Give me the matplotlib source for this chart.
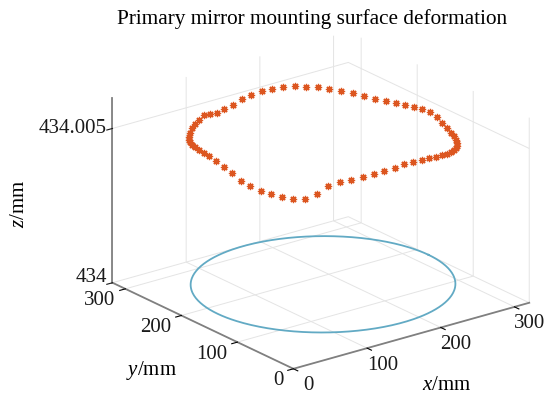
import numpy as np
import matplotlib
matplotlib.use("Agg")
import matplotlib.pyplot as plt

# nominal mounting circle (mm)
circle_cx, circle_cy = 177.0, 180.0
circle_r = 143.0
z_base = 434.0

# measured ring: angle around the mount (deg) and height above z_base (um)
ring_r = 145.0
ring_theta_deg = np.arange(0, 360, 5)
ring_dz_um = [
    4.63, 4.60, 4.57, 4.55, 4.53, 4.53, 4.55, 4.58, 4.64, 4.70,
    4.75, 4.81, 4.84, 4.87, 4.88, 4.87, 4.85, 4.80, 4.74, 4.66,
    4.61, 4.58, 4.68, 4.77, 4.73, 4.71, 4.72, 4.72, 4.72, 4.75,
    4.81, 4.87, 4.93, 4.97, 4.98, 5.00, 4.95, 4.88, 4.77, 4.61,
    4.51, 4.43, 4.38, 4.33, 4.31, 4.34, 4.52, 4.78, 4.87, 4.94,
    4.98, 5.02, 5.06, 5.11, 5.16, 5.12, 5.08, 5.04, 4.97, 4.90,
    4.83, 4.76, 4.69, 4.62, 4.56, 4.50, 4.47, 4.45, 4.43, 4.44,
    4.49, 4.57,
]

x_ticks = [0, 100, 200, 300]
y_ticks = [0, 100, 200, 300]
z_ticks = [434.0, 434.005]
z_ticklabels = ["434", "434.005"]

plt.rcParams["font.family"] = ["Liberation Serif", "DejaVu Serif"]
plt.rcParams["mathtext.fontset"] = "custom"
plt.rcParams["mathtext.rm"] = "Liberation Serif"
plt.rcParams["mathtext.it"] = "Liberation Serif:italic"

fig = plt.figure(figsize=(5.46, 3.96), dpi=100)
ax = fig.add_axes([0.2152, -0.019, 0.7253, 1.0], projection="3d", proj_type="ortho")
ax.view_init(elev=21.4, azim=-127.5)
ax.set_box_aspect((1.48, 1.48, 0.99), zoom=1.14)

# nominal circle
t = np.linspace(0, 2 * np.pi, 361)
ax.plot(circle_cx + circle_r * np.cos(t), circle_cy + circle_r * np.sin(t),
        np.full_like(t, z_base), color="#62aac4", lw=1.3)

# deformed ring
th = np.deg2rad(ring_theta_deg)
rz = z_base + np.array(ring_dz_um) / 1000.0
ax.plot(circle_cx + ring_r * np.cos(th), circle_cy + ring_r * np.sin(th), rz,
        ls="none", marker=(8, 2, 0), ms=5.2, mew=0.9, color="#dc5620")

ax.set_xlim(0, 320)
ax.set_ylim(0, 323)
ax.set_zlim(434.0, 434.006)
ax.set_xticks(x_ticks)
ax.set_yticks(y_ticks)
ax.set_zticks(z_ticks)
ax.set_zticklabels(z_ticklabels, ha="right", va="center")
# built-in x/y labels are replaced by ax.text below; park them on the axis
ax.tick_params(axis="x", labelbottom=False, pad=-8)
ax.tick_params(axis="y", labelleft=False, labelbottom=False, pad=-8)

for axis in (ax.xaxis, ax.yaxis, ax.zaxis):
    axis.set_pane_color((1, 1, 1, 0))
    axis.pane.set_edgecolor((1, 1, 1, 0))
    axis.line.set_color("#808080")
    axis.line.set_linewidth(1.3)
    axis._axinfo["grid"].update(color="#e4e4e4", linewidth=0.7)
    axis._axinfo["tick"].update(inward_factor=0.3, outward_factor=0.0)
ax.tick_params(axis="z", labelsize=15, colors="#1a1a1a", pad=-6)
# bottom z label sits on its tick so it clears the y labels
ax.zaxis.get_major_ticks()[0].label1.set_va("baseline")

# x / y tick labels placed just outside the floor edges
for v in x_ticks:
    ax.text(v, -27, z_base - 0.00032, str(v), ha="center", va="center",
            fontsize=15, color="#1a1a1a")
for v in y_ticks:
    ax.text(-13.6, v, z_base - 0.0003, str(v), ha="right", va="center",
            fontsize=15, color="#1a1a1a")

# axis titles
fig.text(447 / 546, 1 - 385 / 396, r"$x$/mm", ha="center", va="center", fontsize=15)
fig.text(151 / 546, 1 - 371 / 396, r"$y$/mm", ha="center", va="center", fontsize=15)
fig.text(20 / 546, 1 - 204 / 396, r"$z$/mm", rotation=90,
         ha="center", va="center", fontsize=15)

fig.text(0.572, 0.951, "Primary mirror mounting surface deformation",
         ha="center", va="center", fontsize=15.3)

fig.savefig("out.png", dpi=100)
